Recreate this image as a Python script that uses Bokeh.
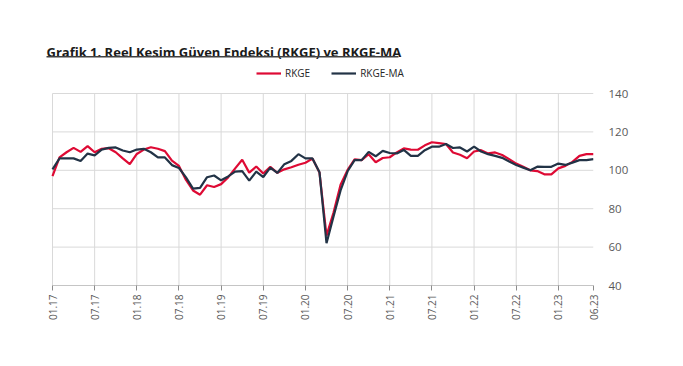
import math
from bokeh.plotting import figure
from bokeh.models import Range1d, FixedTicker, Legend, LegendItem, Label, BoxAnnotation
from bokeh.embed import file_html
from bokeh.resources import INLINE

title_text = "Grafik 1. Reel Kesim Güven Endeksi (RKGE) ve RKGE-MA"
series_names = ["RKGE", "RKGE-MA"]

tick_labels = ["01.17", "07.17", "01.18", "07.18", "01.19", "07.19", "01.20",
               "07.20", "01.21", "07.21", "01.22", "07.22", "01.23", "06.23"]
tick_month_index = [0, 6, 12, 18, 24, 30, 36, 42, 48, 54, 60, 66, 72, 77]

rkge = [97.0, 106.7, 109.4, 111.7, 109.6, 112.6, 109.4, 111.2, 111.5, 109.4,
        106.2, 103.2, 108.5, 110.8, 112.0, 111.2, 110.0, 105.0, 102.3, 95.0,
        89.5, 87.3, 92.2, 91.3, 92.8, 96.3, 101.0, 105.5, 98.8, 102.0,
        98.3, 101.8, 98.7, 100.5, 101.6, 102.9, 103.9, 106.1, 98.8, 66.0,
        78.0, 92.5, 100.2, 105.7, 105.3, 108.4, 104.2, 106.4, 106.8, 109.3,
        111.4, 110.8, 110.7, 113.0, 114.6, 114.2, 113.7, 109.3, 108.1, 106.3,
        109.8, 110.5, 108.8, 109.3, 108.0, 105.8, 103.5, 101.9, 100.0, 99.6,
        97.9, 97.9, 101.0, 102.3, 104.4, 107.5, 108.4, 108.4]

rkge_ma = [100.5, 106.2, 106.2, 106.2, 104.8, 108.7, 107.8, 110.8, 111.7, 111.9,
           110.3, 109.4, 110.8, 111.2, 109.4, 106.7, 106.7, 102.7, 101.2, 96.3,
           90.5, 90.8, 96.4, 97.3, 94.8, 96.8, 99.3, 99.6, 94.6, 99.3,
           96.5, 101.4, 98.6, 103.2, 104.9, 108.4, 106.2, 106.2, 99.0, 62.0,
           76.0, 89.5, 99.5, 105.3, 105.3, 109.6, 107.3, 110.1, 109.0, 108.8,
           110.6, 107.5, 107.5, 110.5, 112.3, 112.3, 113.7, 111.6, 111.9, 109.8,
           112.3, 109.8, 108.4, 107.5, 106.5, 104.6, 102.8, 101.4, 100.0, 101.9,
           101.8, 101.8, 103.5, 102.8, 104.0, 105.3, 105.3, 105.8]

y_ticks = [40, 60, 80, 100, 120, 140]

RED = "#DE0A34"
DARK = "#223346"
FONT = "Open Sans"
GRID = "#d9d9d9"
AXIS = "#8c8c8c"

# ---- layout (pixels on the page) ----
W, H = 668, 358
PLOT_L, PLOT_R = 52, 593      # pixel x of first / last month
PLOT_T, PLOT_B = 93, 285      # pixel y of y=140 / y=40
FRAME_L, FRAME_T = 40, 35     # frame extends up/left to hold title & legend

n = len(rkge)
y_lo, y_hi = y_ticks[0], y_ticks[-1]
ppx = (PLOT_R - PLOT_L) / (n - 1)
ppy = (PLOT_B - PLOT_T) / (y_hi - y_lo)


def px_to_x(px):
    return (px - PLOT_L) / ppx


def py_to_y(py):
    return y_hi - (py - PLOT_T) / ppy


x = list(range(n))

p = figure(width=W, height=H, output_backend="svg", toolbar_location=None,
           x_range=Range1d(px_to_x(FRAME_L), n - 1),
           y_range=Range1d(y_lo, py_to_y(FRAME_T)),
           y_axis_location="right",
           min_border_left=FRAME_L, min_border_top=FRAME_T,
           min_border_right=W - PLOT_R, min_border_bottom=H - PLOT_B)
p.outline_line_color = None
p.xgrid.visible = False
p.ygrid.visible = False

# grid lines limited to the data area
grid_x = tick_month_index[:-1]
p.segment(x0=grid_x, x1=grid_x, y0=[y_lo] * len(grid_x), y1=[y_hi] * len(grid_x),
          line_color=GRID, line_width=1)
grid_y = y_ticks[1:]
p.segment(x0=[0] * len(grid_y), x1=[n - 1] * len(grid_y), y0=grid_y, y1=grid_y,
          line_color=GRID, line_width=1)
# x axis baseline
p.segment(x0=[0], x1=[n - 1], y0=[y_lo], y1=[y_lo], line_color=AXIS, line_width=1.2)

r1 = p.line(x, rkge, line_color=RED, line_width=2.2)
r2 = p.line(x, rkge_ma, line_color=DARK, line_width=2.2)

xa = p.xaxis[0]
xa.ticker = FixedTicker(ticks=tick_month_index)
xa.major_label_overrides = {i: l for i, l in zip(tick_month_index, tick_labels)}
xa.major_label_orientation = math.pi / 2
xa.axis_line_color = None
xa.major_tick_line_color = AXIS
xa.major_tick_out = 5
xa.major_tick_in = 0
xa.minor_tick_line_color = None
xa.major_label_text_font = FONT
xa.major_label_text_font_size = "10px"
xa.major_label_text_color = "#595959"
xa.major_label_standoff = 4

ya = p.yaxis[0]
ya.ticker = FixedTicker(ticks=y_ticks)
ya.axis_line_color = None
ya.major_tick_line_color = None
ya.minor_tick_line_color = None
ya.major_label_text_font = FONT
ya.major_label_text_font_size = "11.5px"
ya.major_label_text_color = "#595959"
ya.major_label_standoff = 9

# title with rule underneath
p.add_layout(Label(x=px_to_x(46), y=py_to_y(51.7), text=title_text,
                   text_font=FONT, text_font_size="13px", text_font_style="bold",
                   text_color="#1a1a1a", text_baseline="alphabetic",
                   text_align="left"))
p.add_layout(BoxAnnotation(left=px_to_x(46), right=px_to_x(398),
                           top=py_to_y(55.4), bottom=py_to_y(56.9),
                           fill_color="#404040", fill_alpha=1, line_color=None))

# legend: location tuple = (left, bottom) in pixels from the frame's bottom-left
legend = Legend(items=[LegendItem(label=series_names[0], renderers=[r1]),
                       LegendItem(label=series_names[1], renderers=[r2])],
                orientation="horizontal",
                location=(256 - FRAME_L, PLOT_B - 79.7),
                glyph_width=25, glyph_height=14, label_height=14,
                label_standoff=4, spacing=21, padding=0, margin=0,
                label_text_font=FONT, label_text_font_size="10px",
                label_text_color="#262626",
                border_line_color=None, background_fill_alpha=0)
p.add_layout(legend, "center")

open("out.html", "w").write(file_html(p, INLINE))
